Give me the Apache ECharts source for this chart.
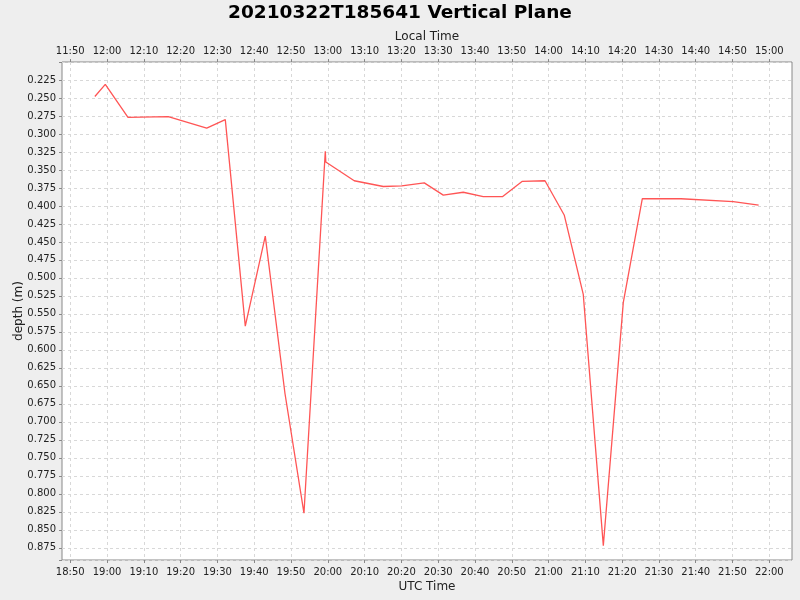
<!DOCTYPE html>
<html>
<head>
<meta charset="utf-8">
<script src="https://cdn.jsdelivr.net/npm/echarts@6/dist/echarts.min.js"></script>
<style>
  html, body { margin: 0; padding: 0; background: #eeeeee; }
  #graph { width: 800px; height: 600px; }
</style>
</head>
<body>
<div id="graph"></div>
<script>
// UTC sample times on 2021-03-22 and depth in metres
const sampleTimes = [
    "18:56:41", "18:59:31", "19:05:41", "19:16:38", "19:27:05", "19:32:08",
    "19:37:34", "19:43:00", "19:48:22", "19:53:31", "19:59:19", "19:59:27",
    "20:07:11", "20:15:05", "20:20:05", "20:26:13", "20:31:23", "20:36:49",
    "20:42:15", "20:47:32", "20:52:47", "20:59:02", "21:04:17", "21:09:26",
    "21:14:53", "21:20:19", "21:25:29", "21:36:00", "21:50:12", "21:57:06"
];
const depths = [
    0.248, 0.231, 0.277, 0.276, 0.292, 0.280,
    0.567, 0.442, 0.661, 0.827, 0.324, 0.339,
    0.365, 0.373, 0.372, 0.368, 0.385, 0.381,
    0.387, 0.387, 0.366, 0.365, 0.413, 0.523,
    0.872, 0.534, 0.390, 0.390, 0.394, 0.399
];
const tickTimes = [
    "18:50", "19:00", "19:10", "19:20", "19:30", "19:40", "19:50", "20:00",
    "20:10", "20:20", "20:30", "20:40", "20:50", "21:00", "21:10", "21:20",
    "21:30", "21:40", "21:50", "22:00"
];
const localOffsetHours = -7;

function toMs(hms) {
    const p = hms.split(":").map(Number);
    return Date.UTC(2021, 2, 22, p[0], p[1], p[2] || 0);
}

function hhmm(ms, offsetH) {
    const d = new Date(ms + offsetH * 3600000);
    const h = String(d.getUTCHours()).padStart(2, "0");
    const m = String(d.getUTCMinutes()).padStart(2, "0");
    return h + ":" + m;
}

const tickValues = tickTimes.map(toMs);
const seriesData = sampleTimes.map((t, i) => [toMs(t), depths[i]]);
const xMin = toMs("18:47:45");
const xMax = toMs("22:06:10");

const font = "DejaVu Sans";
const gridLine = { show: true, lineStyle: { color: "#d8d8d8", type: [3, 3], width: 1 } };

function timeAxis(position, offsetH, name) {
    const bottom = position === "bottom";
    return {
        type: "value",
        position: position,
        min: xMin,
        max: xMax,
        name: name,
        nameLocation: "middle",
        nameGap: bottom ? 21 : 19,
        nameMoveOverlap: false,
        nameTextStyle: { fontFamily: font, fontSize: 12, color: "#222" },
        axisLine: { show: false },
        axisTick: { show: true, length: 3, lineStyle: { color: "#888" }, customValues: tickValues },
        axisLabel: {
            customValues: tickValues,
            fontFamily: font, fontSize: 10, color: "#222", margin: bottom ? 7 : 6,
            formatter: (v) => hhmm(v, offsetH)
        },
        splitLine: bottom ? gridLine : { show: false }
    };
}

function createOptions() {
    return {
        backgroundColor: "#eeeeee",
        animation: false,
        title: {
            text: "20210322T185641 Vertical Plane",
            left: "center",
            top: -1,
            textStyle: { fontFamily: font, fontSize: 18.5, fontWeight: "bold", color: "#000" }
        },
        grid: {
            left: 62, right: 8, top: 62, bottom: 40,
            outerBoundsMode: "none",
            containLabel: false,
            show: true,
            backgroundColor: "#ffffff",
            borderColor: "#888888",
            borderWidth: 1
        },
        xAxis: [
            timeAxis("bottom", 0, "UTC Time"),
            timeAxis("top", localOffsetHours, "Local Time")
        ],
        yAxis: [{
            type: "value",
            inverse: true,
            min: 0.2,
            max: 0.892,
            interval: 0.025,
            name: "depth (m)",
            nameLocation: "middle",
            nameGap: 37,
            nameMoveOverlap: false,
            nameTextStyle: { fontFamily: font, fontSize: 12, color: "#222" },
            axisLine: { show: false },
            axisTick: { show: true, length: 3, lineStyle: { color: "#888" } },
            axisLabel: {
                fontFamily: font, fontSize: 10, color: "#222", margin: 6,
                formatter: (v) => (v < 0.21 || v > 0.88) ? "" : v.toFixed(3)
            },
            splitLine: gridLine
        }],
        series: [{
            type: "line",
            xAxisIndex: 0,
            data: seriesData,
            showSymbol: false,
            lineStyle: { color: "#ff5555", width: 1.3 },
            itemStyle: { color: "#ff5555" }
        }]
    };
}

const chart = echarts.init(document.getElementById("graph"));
chart.setOption(createOptions());
</script>
</body>
</html>
